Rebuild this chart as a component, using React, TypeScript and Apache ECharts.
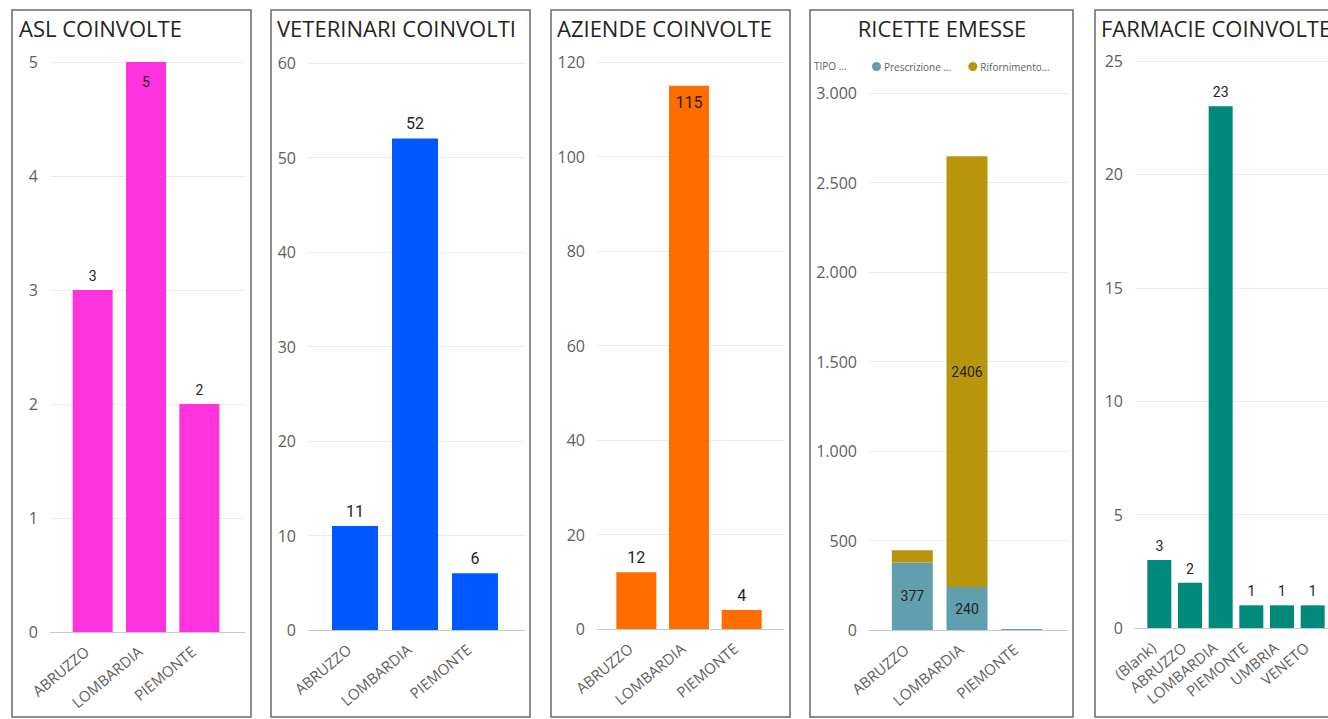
import React, { useEffect, useRef } from 'react';
import * as echarts from 'echarts';

// ---------- DATA ----------
const REGIONS = ['ABRUZZO', 'LOMBARDIA', 'PIEMONTE'];
const ASL_VALUES = [3, 5, 2];
const VETERINARI_VALUES = [11, 52, 6];
const AZIENDE_VALUES = [12, 115, 4];
const RICETTE_PRESCRIZIONE = [377, 240, 5];
const RICETTE_RIFORNIMENTO = [68, 2406, 0];
const FARMACIE_CATEGORIES = ['(Blank)', 'ABRUZZO', 'LOMBARDIA', 'PIEMONTE', 'UMBRIA', 'VENETO'];
const FARMACIE_VALUES = [3, 2, 23, 1, 1, 1];
const Y_MAX = [5, 60, 120, 3000, 25];
const Y_STEP = [1, 10, 20, 500, 5];
const TITLES = ['ASL COINVOLTE', 'VETERINARI COINVOLTI', 'AZIENDE COINVOLTE', 'RICETTE EMESSE', 'FARMACIE COINVOLTE'];
const LEGEND_TITLE = 'TIPO ...';
const SERIES_NAMES = ['Prescrizione ...', 'Rifornimento...'];

// ---------- STYLE / LAYOUT ----------
const FONT = '"Open Sans", "Segoe UI", sans-serif';
const LABEL_FONT = 'Roboto, sans-serif';
const TITLE_COLOR = '#252423';
const AXIS_COLOR = '#605E5C';
const COLORS = {
  asl: '#FF33DD',
  vet: '#0059FF',
  az: '#FF6C00',
  presc: '#619FAF',
  rif: '#B8960C',
  farm: '#01897B',
};

type Panel = {
  box: number[];
  grid: number[];
  band: number[];
  top: number;
  bottom: number;
  barW: number;
  titleX: number;
  titleAlign: string;
  cats: string[];
  labelSize: number;
};

const PANELS: Panel[] = [
  { box: [12, 10, 239, 707], grid: [50, 245], band: [66, 226], top: 62, bottom: 632, barW: 40, titleX: 19, titleAlign: 'left', cats: REGIONS, labelSize: 14 },
  { box: [271, 10, 259, 707], grid: [308, 525], band: [325, 505], top: 63, bottom: 630, barW: 46, titleX: 277, titleAlign: 'left', cats: REGIONS, labelSize: 16 },
  { box: [551, 10, 239, 707], grid: [597, 784], band: [610, 768], top: 62, bottom: 629, barW: 40, titleX: 557, titleAlign: 'left', cats: REGIONS, labelSize: 16 },
  { box: [810, 10, 263, 707], grid: [869, 1068], band: [885, 1049], top: 93, bottom: 630, barW: 41, titleX: 942, titleAlign: 'center', cats: REGIONS, labelSize: 14 },
  { box: [1095, 10, 260, 707], grid: [1135, 1360], band: [1144, 1330], top: 61, bottom: 628, barW: 24, titleX: 1101, titleAlign: 'left', cats: FARMACIE_CATEGORIES, labelSize: 14 },
];

const fmtIt = (v: number) => String(v).replace(/\B(?=(\d{3})+(?!\d))/g, '.');

function buildOption() {
  const grid: any[] = [];
  const xAxis: any[] = [];
  const yAxis: any[] = [];
  const series: any[] = [];
  const graphic: any[] = [];

  PANELS.forEach((p, i) => {
    const h = p.bottom - p.top;
    grid.push({ left: p.grid[0], top: p.top, width: p.grid[1] - p.grid[0], height: h });
    grid.push({ left: p.band[0], top: p.top, width: p.band[1] - p.band[0], height: h });

    xAxis.push({
      gridIndex: 2 * i,
      type: 'category',
      data: [''],
      axisLine: { show: true, lineStyle: { color: '#C8C8C8', width: 1 } },
      axisTick: { show: false },
      axisLabel: { show: false },
    });
    yAxis.push({
      gridIndex: 2 * i,
      type: 'value',
      min: 0,
      max: Y_MAX[i],
      interval: Y_STEP[i],
      axisLine: { show: false },
      axisTick: { show: false },
      axisLabel: { color: AXIS_COLOR, fontSize: 16, fontFamily: FONT, margin: 12, formatter: fmtIt },
      splitLine: { show: true, lineStyle: { color: '#EBEBEB', width: 1 } },
    });
    xAxis.push({
      gridIndex: 2 * i + 1,
      type: 'category',
      data: p.cats,
      axisLine: { show: false },
      axisTick: { show: false },
      axisLabel: {
        interval: 0,
        rotate: 40,
        margin: 12,
        fontSize: 15,
        color: AXIS_COLOR,
        fontFamily: FONT,
        padding: [0, 8, 0, 0],
      },
    });
    yAxis.push({
      gridIndex: 2 * i + 1,
      type: 'value',
      min: 0,
      max: Y_MAX[i],
      interval: Y_STEP[i],
      show: false,
      splitLine: { show: false },
    });

    graphic.push({
      type: 'rect',
      shape: { x: p.box[0], y: p.box[1], width: p.box[2], height: p.box[3] },
      style: { fill: 'none', stroke: '#6A6A6A', lineWidth: 1.5 },
      silent: true,
    });
    graphic.push({
      type: 'text',
      x: p.titleX,
      y: 28,
      style: {
        text: TITLES[i],
        fill: TITLE_COLOR,
        font: `22px ${FONT}`,
        align: p.titleAlign,
        verticalAlign: 'middle',
      },
      silent: true,
    });
  });

  const simpleBar = (i: number, values: number[], color: string, insideMax: boolean, insideDist: number) => {
    const p = PANELS[i];
    const mx = Math.max(...values);
    return {
      type: 'bar',
      xAxisIndex: 2 * i + 1,
      yAxisIndex: 2 * i + 1,
      barWidth: p.barW,
      itemStyle: { color },
      label: {
        show: true,
        position: 'top',
        distance: 7,
        fontSize: p.labelSize,
        fontFamily: LABEL_FONT,
        color: TITLE_COLOR,
      },
      data: values.map((v) =>
        insideMax && v === mx
          ? { value: v, label: { position: 'insideTop', distance: insideDist } }
          : { value: v }
      ),
    };
  };

  series.push(simpleBar(0, ASL_VALUES, COLORS.asl, true, 13));
  series.push(simpleBar(1, VETERINARI_VALUES, COLORS.vet, false, 0));
  series.push(simpleBar(2, AZIENDE_VALUES, COLORS.az, true, 9));

  const stackLabel = {
    show: true,
    position: 'inside',
    fontSize: 14,
    fontFamily: LABEL_FONT,
    color: TITLE_COLOR,
  };
  const showIfRoom = (v: number) => ({ value: v, label: { show: v > 200 } });
  series.push({
    name: SERIES_NAMES[0],
    type: 'bar',
    stack: 'ricette',
    xAxisIndex: 7,
    yAxisIndex: 7,
    barWidth: PANELS[3].barW,
    itemStyle: { color: COLORS.presc },
    label: stackLabel,
    data: RICETTE_PRESCRIZIONE.map(showIfRoom),
  });
  series.push({
    name: SERIES_NAMES[1],
    type: 'bar',
    stack: 'ricette',
    xAxisIndex: 7,
    yAxisIndex: 7,
    barWidth: PANELS[3].barW,
    itemStyle: { color: COLORS.rif },
    label: stackLabel,
    data: RICETTE_RIFORNIMENTO.map(showIfRoom),
  });

  series.push(simpleBar(4, FARMACIE_VALUES, COLORS.farm, false, 0));

  graphic.push({
    type: 'text',
    x: 814,
    y: 66,
    style: { text: LEGEND_TITLE, fill: AXIS_COLOR, font: `10px ${FONT}`, verticalAlign: 'middle' },
    silent: true,
  });

  return {
    animation: false,
    backgroundColor: '#ffffff',
    grid,
    xAxis,
    yAxis,
    series,
    graphic,
    legend: {
      left: 872,
      top: 61.5,
      padding: 0,
      itemWidth: 9,
      itemHeight: 9,
      itemGap: 17,
      icon: 'circle',
      selectedMode: false,
      textStyle: { fontSize: 10, color: AXIS_COLOR, fontFamily: FONT, padding: [0, 0, 0, -2] },
      data: SERIES_NAMES,
    },
  };
}

export default function App() {
  const ref = useRef<HTMLDivElement>(null);
  useEffect(() => {
    if (!ref.current) return;
    const chart = echarts.init(ref.current, null, { renderer: 'svg' });
    chart.setOption(buildOption() as any);
    return () => chart.dispose();
  }, []);
  return (
    <div
      ref={ref}
      style={{ position: 'absolute', left: 0, top: 0, width: 1328, height: 719, background: '#fff' }}
    />
  );
}
